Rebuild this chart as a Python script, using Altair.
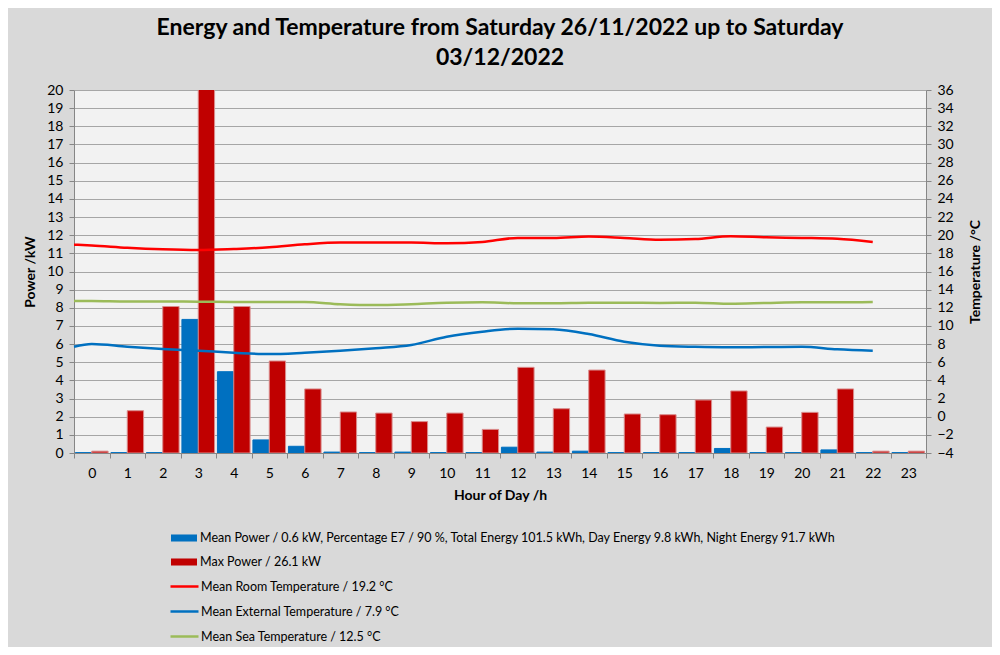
import altair as alt
import pandas as pd

# ---------------- data ----------------
hours = list(range(24))
mean_power = [0.02, 0.02, 0.02, 7.36, 4.48, 0.72, 0.37, 0.05, 0.02, 0.05, 0.02, 0.02,
              0.32, 0.05, 0.1, 0.02, 0.02, 0.02, 0.25, 0.02, 0.02, 0.17, 0.02, 0.02]
max_power = [0.1, 2.33, 8.07, 26.1, 8.07, 5.07, 3.53, 2.26, 2.2, 1.73, 2.2, 1.3,
             4.72, 2.44, 4.57, 2.15, 2.11, 2.92, 3.42, 1.43, 2.24, 3.53, 0.1, 0.1]

temp_hours = [-0.5, 0, 1, 2, 3, 4, 5, 6, 7, 8, 9, 10, 11, 12, 13, 14, 15, 16, 17, 18, 19, 20, 21, 22]
room_temp = [18.95, 18.87, 18.62, 18.45, 18.37, 18.48, 18.66, 19.0, 19.2, 19.2, 19.2, 19.1,
             19.25, 19.7, 19.7, 19.85, 19.7, 19.5, 19.58, 19.88, 19.77, 19.7, 19.6, 19.25]
ext_temp = [7.71, 8.0, 7.71, 7.46, 7.27, 7.05, 6.9, 7.05, 7.27, 7.55, 7.9, 8.82,
            9.37, 9.7, 9.63, 9.11, 8.27, 7.83, 7.7, 7.65, 7.67, 7.7, 7.43, 7.27]
sea_temp = [12.75, 12.75, 12.7, 12.7, 12.67, 12.64, 12.64, 12.64, 12.4, 12.3, 12.4, 12.56,
            12.6, 12.5, 12.5, 12.56, 12.56, 12.53, 12.56, 12.45, 12.53, 12.6, 12.6, 12.64]

bar_names = [
    "Mean Power / 0.6 kW, Percentage E7 / 90 %, Total Energy 101.5 kWh, Day Energy 9.8 kWh, Night Energy 91.7 kWh",
    "Max Power / 26.1 kW",
]
line_names = [
    "Mean Room Temperature / 19.2 °C",
    "Mean External Temperature / 7.9 °C",
    "Mean Sea Temperature / 12.5 °C",
]
bar_colors = ["#0070c0", "#c00000"]
bar_strokes = ["#0070c0", "#d98c8c"]
line_colors = ["#ff0000", "#0070c0", "#9bbb59"]

power_ticks = list(range(0, 21))
temp_ticks = list(range(-4, 37, 2))
hour_bounds = [h - 0.5 for h in range(25)]

title_lines = ["Energy and Temperature from Saturday 26/11/2022 up to Saturday", "03/12/2022"]

# ---------------- tables ----------------
bars_df = pd.DataFrame(
    [{"hour": h, "series": bar_names[0], "idx": 0, "value": v} for h, v in zip(hours, mean_power)]
    + [{"hour": h, "series": bar_names[1], "idx": 1, "value": v} for h, v in zip(hours, max_power)]
)
lines_df = pd.DataFrame(
    [{"hour": h, "series": line_names[0], "temp": t} for h, t in zip(temp_hours, room_temp)]
    + [{"hour": h, "series": line_names[1], "temp": t} for h, t in zip(temp_hours, ext_temp)]
    + [{"hour": h, "series": line_names[2], "temp": t} for h, t in zip(temp_hours, sea_temp)]
)

FONT = "Lato"
AX = "#868686"
W, H = 852, 363
half_band_px = W / 24 / 2

x_scale = alt.Scale(domain=[-0.5, 23.5], nice=False, zero=False)


def make_x_axis():
    return alt.Axis(
        values=hour_bounds,
        labelExpr="datum.value > 23 ? '' : format(datum.value + 0.5, 'd')",
        labelOffset=half_band_px,
        labelFlush=False,
        labelOverlap=False,
        labelPadding=8,
        tickSize=5,
        grid=False,
        title="Hour of Day /h",
        titlePadding=8,
    )


bars = (
    alt.Chart(bars_df)
    .transform_calculate(
        x0="datum.hour - 0.46 + datum.idx * 0.46",
        x1="datum.hour + datum.idx * 0.46",
    )
    .mark_bar(clip=True, strokeWidth=1)
    .encode(
        x=alt.X("x0:Q", scale=x_scale, axis=make_x_axis()),
        x2="x1:Q",
        y=alt.Y(
            "value:Q",
            scale=alt.Scale(domain=[0, 20], nice=False, zero=True),
            axis=alt.Axis(
                values=power_ticks,
                grid=True,
                gridColor="#a6a6a6",
                tickSize=5,
                labelPadding=6,
                title="Power /kW",
                titleAngle=270,
                titleX=-44,
                titleY=H / 2,
                titleAlign="center",
                titleBaseline="middle",
            ),
        ),
        y2=alt.datum(0),
        color=alt.Color(
            "series:N",
            scale=alt.Scale(domain=bar_names, range=bar_colors),
            legend=alt.Legend(
                title=None,
                orient="none",
                legendX=97,
                legendY=435,
                direction="vertical",
                symbolType="M-1,-0.27H1V0.27H-1Z",
                symbolSize=676,
                symbolStrokeWidth=0,
                rowPadding=4,
                labelOffset=3,
            ),
        ),
        stroke=alt.Stroke("series:N", scale=alt.Scale(domain=bar_names, range=bar_strokes), legend=None),
    )
)

lines = (
    alt.Chart(lines_df)
    .mark_line(strokeWidth=2.5, interpolate="monotone")
    .encode(
        x=alt.X("hour:Q", scale=x_scale, axis=make_x_axis()),
        y=alt.Y(
            "temp:Q",
            scale=alt.Scale(domain=[-4, 36], nice=False, zero=False),
            axis=alt.Axis(
                orient="right",
                values=temp_ticks,
                grid=False,
                tickSize=5,
                labelPadding=6,
                title="Temperature /°C",
                titleAngle=270,
                titleX=49,
                titleY=H / 2,
                titleAlign="center",
                titleBaseline="middle",
            ),
        ),
        color=alt.Color(
            "series:N",
            scale=alt.Scale(domain=line_names, range=line_colors),
            legend=alt.Legend(
                title=None,
                orient="none",
                legendX=95,
                legendY=481,
                direction="vertical",
                symbolType="M-1,0H1",
                symbolSize=784,
                symbolStrokeWidth=2.5,
                rowPadding=3,
                labelOffset=1,
            ),
        ),
        detail="series:N",
    )
)

chart = (
    alt.layer(bars, lines)
    .resolve_scale(y="independent", color="independent", stroke="independent")
    .properties(
        width=W,
        height=H,
        autosize=alt.AutoSizeParams(type="none"),
        padding={"left": 66, "top": 82, "right": 66, "bottom": 194},
        background="#d9d9d9",
        title=alt.TitleParams(
            text=title_lines,
            anchor="middle",
            fontSize=23,
            fontWeight="bold",
            font=FONT,
            color="#000000",
            lineHeight=30,
            offset=13,
        ),
    )
    .configure_view(fill="#f2f2f2", strokeWidth=0)
    .configure_axis(
        domainColor=AX,
        tickColor=AX,
        labelFont=FONT,
        labelFontSize=14,
        labelColor="#000000",
        titleFont=FONT,
        titleFontSize=14,
        titleFontWeight="bold",
        titleColor="#000000",
    )
    .configure_legend(
        labelFont=FONT,
        labelFontSize=12.5,
        labelColor="#000000",
        labelLimit=900,
    )
)

chart.save("out.html", embed_options={"renderer": "svg", "actions": False})
